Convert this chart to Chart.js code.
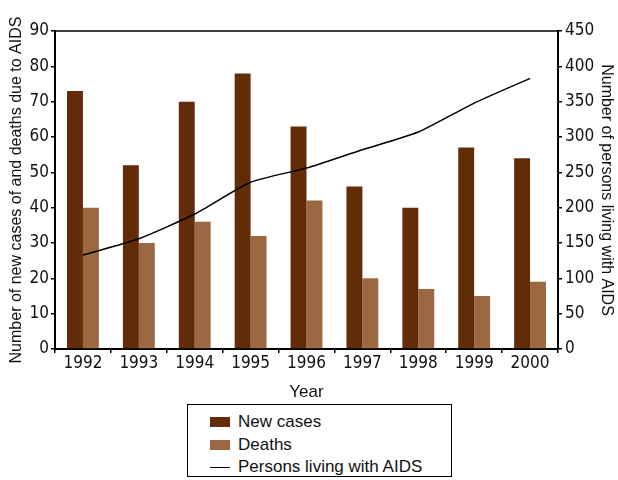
<!DOCTYPE html>
<html>
<head>
<meta charset="utf-8">
<script src="https://cdn.jsdelivr.net/npm/chart.js@4"></script>
<style>
    body { margin: 0; background: #fff; }
    #wrap { position: relative; width: 618px; height: 480px; }
    #legend {
        position: absolute; left: 187px; top: 404px; width: 263px; height: 71px;
        border: 1.5px solid #000; font-family: "Liberation Sans", Arial, sans-serif; font-size: 17px; color: #111;
    }
    .row { position: absolute; left: 22px; height: 22px; line-height: 22px; }
    .sw { display: inline-block; width: 20px; height: 10px; vertical-align: middle; margin-right: 8px; position: relative; top: -1px; }
    .ln { display: inline-block; width: 20px; height: 0; border-top: 1.5px solid #000; vertical-align: middle; margin-right: 8px; }
</style>
</head>
<body>
<div id="wrap">
    <canvas id="chart" width="618" height="400"></canvas>
    <div id="legend">
        <div class="row" style="top:6px"><span class="sw" style="background:#632c09"></span>New cases</div>
        <div class="row" style="top:29px"><span class="sw" style="background:#9b6841"></span>Deaths</div>
        <div class="row" style="top:51px"><span class="ln"></span>Persons living with AIDS</div>
    </div>
</div>
<script>
const years = ['1992', '1993', '1994', '1995', '1996', '1997', '1998', '1999', '2000'];
const newCases = [73, 52, 70, 78, 63, 46, 40, 57, 54];
const deaths = [40, 30, 36, 32, 42, 20, 17, 15, 19];
const livingWithAids = [133, 156, 191, 236, 256, 282, 307, 348, 383];

const tickFont = { family: '"Liberation Sans Narrow", "DejaVu Sans Condensed", sans-serif', size: 17 };
const titleFont = { family: '"Liberation Sans", Arial, sans-serif', size: 16 };

// draws the thin line along the top of the plot area
const topBorder = {
    id: 'topBorder',
    afterDraw(chart) {
        const { ctx, chartArea } = chart;
        ctx.save();
        ctx.strokeStyle = '#000';
        ctx.lineWidth = 1.5;
        ctx.beginPath();
        ctx.moveTo(chartArea.left, chartArea.top);
        ctx.lineTo(chartArea.right, chartArea.top);
        ctx.stroke();
        ctx.restore();
    }
};

new Chart(document.getElementById('chart').getContext('2d'), {
    type: 'bar',
    data: {
        labels: years,
        datasets: [
            {
                type: 'line',
                label: 'Persons living with AIDS',
                data: livingWithAids,
                yAxisID: 'y1',
                borderColor: '#000',
                borderWidth: 1.5,
                pointRadius: 0,
                tension: 0.2,
                order: 0
            },
            {
                label: 'New cases',
                data: newCases,
                yAxisID: 'y',
                backgroundColor: '#632c09',
                categoryPercentage: 0.57,
                barPercentage: 1,
                order: 1
            },
            {
                label: 'Deaths',
                data: deaths,
                yAxisID: 'y',
                backgroundColor: '#9b6841',
                categoryPercentage: 0.57,
                barPercentage: 1,
                order: 1
            }
        ]
    },
    options: {
        responsive: false,
        animation: false,
        layout: { padding: { top: 31, left: 0, right: 0, bottom: 0 } },
        plugins: {
            legend: { display: false },
            tooltip: { enabled: false }
        },
        scales: {
            x: {
                afterFit: function(scale) { scale.height = 51; },
                grid: { display: true, drawOnChartArea: false, tickLength: 4, color: '#000', lineWidth: 1.5 },
                border: { display: true, color: '#000', width: 2 },
                ticks: { font: tickFont, color: '#111', padding: 0, maxRotation: 0 },
                title: { display: true, text: 'Year', font: { family: titleFont.family, size: 17 }, color: '#111', padding: { top: 0, bottom: -3 } }
            },
            y: {
                position: 'left',
                min: 0,
                max: 90,
                afterFit: function(scale) { scale.width = 55; },
                grid: { display: true, drawOnChartArea: false, tickLength: 4, color: '#000', lineWidth: 1.5 },
                border: { display: true, color: '#000', width: 2 },
                ticks: { stepSize: 10, font: tickFont, color: '#111', padding: 2 },
                title: { display: true, text: 'Number of new cases of and deaths due to AIDS', font: titleFont, color: '#111', padding: { top: 7, bottom: 0 } }
            },
            y1: {
                position: 'right',
                min: 0,
                max: 450,
                afterFit: function(scale) { scale.width = 60; },
                grid: { display: true, drawOnChartArea: false, tickLength: 4, color: '#000', lineWidth: 1.5 },
                border: { display: true, color: '#000', width: 2 },
                ticks: { stepSize: 50, font: tickFont, color: '#111', padding: 3 },
                title: { display: true, text: 'Number of persons living with AIDS', font: titleFont, color: '#111', padding: { top: 2, bottom: 0 } }
            }
        }
    },
    plugins: [topBorder]
});
</script>
</body>
</html>
